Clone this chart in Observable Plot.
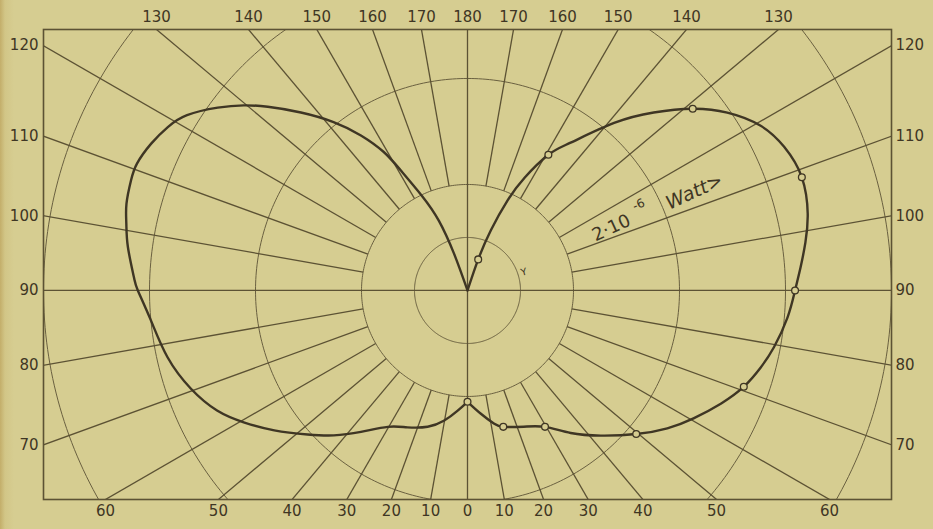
<!DOCTYPE html>
<html>
<head>
<meta charset="utf-8">
<script src="https://cdn.jsdelivr.net/npm/d3@7"></script>
<script src="https://cdn.jsdelivr.net/npm/@observablehq/plot@0.6"></script>
<style>
  html, body { margin: 0; padding: 0; }
  body { width: 933px; height: 529px; overflow: hidden;
         background: linear-gradient(to right, #c3ae6a 0px, #d2c687 5px, #d6cd91 14px, #d6cd91 100%); }
  svg { display: block; }
  svg text.tick { letter-spacing: 1px; }
</style>
</head>
<body>
<div id="chart"></div>
<script>
// ---- Data (angle in degrees measured from the downward axis, radius in units of 10^-6 W) ----
// Right half of the curve, from the centre cusp round to the bottom
const rightAngle  = [180, 161.0, 158.8, 156.0, 153.1, 149.2, 145.1, 138.8, 133.7, 128.9, 124.4, 119.4, 114.4, 108.7, 102.7, 98.1, 94.0, 90.0, 85.2, 79.5, 75.3, 70.8, 66.0, 60.5, 55.4, 49.6, 42.6, 35.9, 29.6, 22.4, 14.7, 11.2, 6.2, 0];
const rightRadius = [0, 0.31, 0.61, 0.93, 1.195, 1.49, 1.70, 2.10, 2.43, 2.73, 2.97, 3.17, 3.28, 3.33, 3.29, 3.22, 3.15, 3.09, 3.03, 2.94, 2.86, 2.76, 2.62, 2.45, 2.29, 2.09, 1.86, 1.66, 1.48, 1.39, 1.33, 1.28, 1.17, 1.05];
// Left half of the curve
const leftAngle  = [180, 159.9, 157.7, 154.3, 150.9, 148.8, 145.5, 141.5, 136.9, 132.6, 129.6, 126.2, 122.0, 118.6, 114.9, 111.0, 108.1, 104.3, 101.1, 97.3, 92.3, 90, 84.6, 77.5, 70.5, 64.4, 59.5, 54.1, 48.0, 42.7, 37.0, 30.3, 23.7, 16.3, 10.3, 4.8, 0];
const leftRadius = [0, 0.37, 0.71, 0.99, 1.30, 1.53, 1.775, 2.03, 2.30, 2.56, 2.74, 2.92, 3.12, 3.22, 3.29, 3.34, 3.34, 3.32, 3.28, 3.23, 3.15, 3.11, 3.00, 2.90, 2.77, 2.62, 2.45, 2.25, 2.03, 1.86, 1.67, 1.49, 1.41, 1.34, 1.25, 1.14, 1.05];
// Measured points (open circles, right half)
const pointAngle  = [0, 14.7, 29.6, 49.6, 70.8, 90, 108.7, 128.9, 149.2, 161.0];
const pointRadius = [1.05, 1.33, 1.48, 2.09, 2.76, 3.09, 3.33, 2.73, 1.49, 0.31];
// Grid
const circleRadii = [0.5, 1, 2, 3, 4];
const tickAngles  = [0, 10, 20, 30, 40, 50, 60, 70, 80, 90, 100, 110, 120, 130, 140, 150, 160, 170, 180];
const frameX = [-4, 4];
const frameY = [-1.972, 2.462];
// Annotations
const unitBase  = {text: "2·10", angle: 113.4, radius: 1.29};
const unitExp   = {text: "-6", angle: 116.7, radius: 1.75};
const unitWord  = {text: "Watt>", angle: 113.4, radius: 2.05};
const markLabel = {text: "Y", angle: 108, radius: 0.56};

// ---- helpers ----
const rad = d => d * Math.PI / 180;
const toXY = (side, a, r) => ({x: side * r * Math.sin(rad(a)), y: -r * Math.cos(rad(a))});
const px = d => toXY(1, d.angle, d.radius).x;
const py = d => toXY(1, d.angle, d.radius).y;

const curveLeft  = leftAngle.map((a, i) => toXY(-1, a, leftRadius[i]));
const curveRight = rightAngle.map((a, i) => toXY(1, a, rightRadius[i]));
const points = pointAngle.map((a, i) => toXY(1, a, pointRadius[i]));

const circles = circleRadii.flatMap(r => d3.range(0, 361, 1).map(t => ({r, ...toXY(1, t, r)})));

const spokes = [];
for (const a of tickAngles) {
  const sides = (a === 0 || a === 180) ? [1] : [-1, 1];
  for (const s of sides) {
    const r0 = (a % 90 === 0) ? 0 : 1;
    const p0 = toXY(s, a, r0), p1 = toXY(s, a, 9);
    spokes.push({x1: p0.x, y1: p0.y, x2: p1.x, y2: p1.y});
  }
}

function hit(side, a) {
  const dx = side * Math.sin(rad(a)), dy = -Math.cos(rad(a));
  let t = Infinity, edge = null;
  if (Math.abs(dx) > 1e-9) { const tx = (dx > 0 ? frameX[1] : frameX[0]) / dx; if (tx < t) { t = tx; edge = dx > 0 ? "right" : "left"; } }
  if (Math.abs(dy) > 1e-9) { const ty = (dy > 0 ? frameY[1] : frameY[0]) / dy; if (ty < t) { t = ty; edge = dy > 0 ? "top" : "bottom"; } }
  return {x: dx * t, y: dy * t, edge, label: String(a)};
}
const labels = [];
for (const a of tickAngles) {
  const sides = (a === 0 || a === 180) ? [1] : [-1, 1];
  for (const s of sides) labels.push(hit(s, a));
}

const ink = "#3f3624";
const gridInk = "#5c5234";
const arcInk = "#6a6040";
const paper = "#d6cd91";

const chart = Plot.plot({
  width: 933, height: 529,
  marginLeft: 43, marginRight: 42, marginTop: 29, marginBottom: 30,
  x: {domain: frameX, axis: null},
  y: {domain: frameY, axis: null},
  style: {background: "transparent", color: ink, fontFamily: "DejaVu Sans"},
  marks: [
    Plot.line(circles, {x: "x", y: "y", z: "r", stroke: arcInk, strokeWidth: 1, clip: true}),
    Plot.link(spokes, {x1: "x1", y1: "y1", x2: "x2", y2: "y2", stroke: gridInk, strokeWidth: 1.3, clip: true}),
    Plot.frame({stroke: gridInk, strokeWidth: 1.6}),
    Plot.line(curveLeft, {x: "x", y: "y", stroke: ink, strokeWidth: 2.4, curve: "natural"}),
    Plot.line(curveRight, {x: "x", y: "y", stroke: ink, strokeWidth: 2.4, curve: "natural"}),
    Plot.dot(points, {x: "x", y: "y", r: 3.4, fill: paper, stroke: ink, strokeWidth: 1.3}),
    Plot.text(labels.filter(d => d.edge === "top"), {x: "x", y: "y", text: "label", dy: -12, fontSize: 15, fill: ink, className: "tick"}),
    Plot.text(labels.filter(d => d.edge === "bottom"), {x: "x", y: "y", text: "label", dy: 12, fontSize: 15, fill: ink, className: "tick"}),
    Plot.text(labels.filter(d => d.edge === "left"), {x: "x", y: "y", text: "label", dx: -5, textAnchor: "end", fontSize: 15, fill: ink, className: "tick"}),
    Plot.text(labels.filter(d => d.edge === "right"), {x: "x", y: "y", text: "label", dx: 4, textAnchor: "start", fontSize: 15, fill: ink, className: "tick"}),
    Plot.text([unitBase], {x: px, y: py, text: "text", textAnchor: "start", rotate: -24.5, fontSize: 18, fill: ink, className: "tick"}),
    Plot.text([unitExp], {x: px, y: py, text: "text", textAnchor: "start", rotate: -24.5, fontSize: 12, fill: ink}),
    Plot.text([unitWord], {x: px, y: py, text: "text", textAnchor: "start", rotate: -24.5, fontSize: 19, fontStyle: "italic", fill: ink}),
    Plot.text([markLabel], {x: px, y: py, text: "text", rotate: -15, fontSize: 10, fill: ink})
  ]
});
document.getElementById("chart").appendChild(chart);
</script>
</body>
</html>
